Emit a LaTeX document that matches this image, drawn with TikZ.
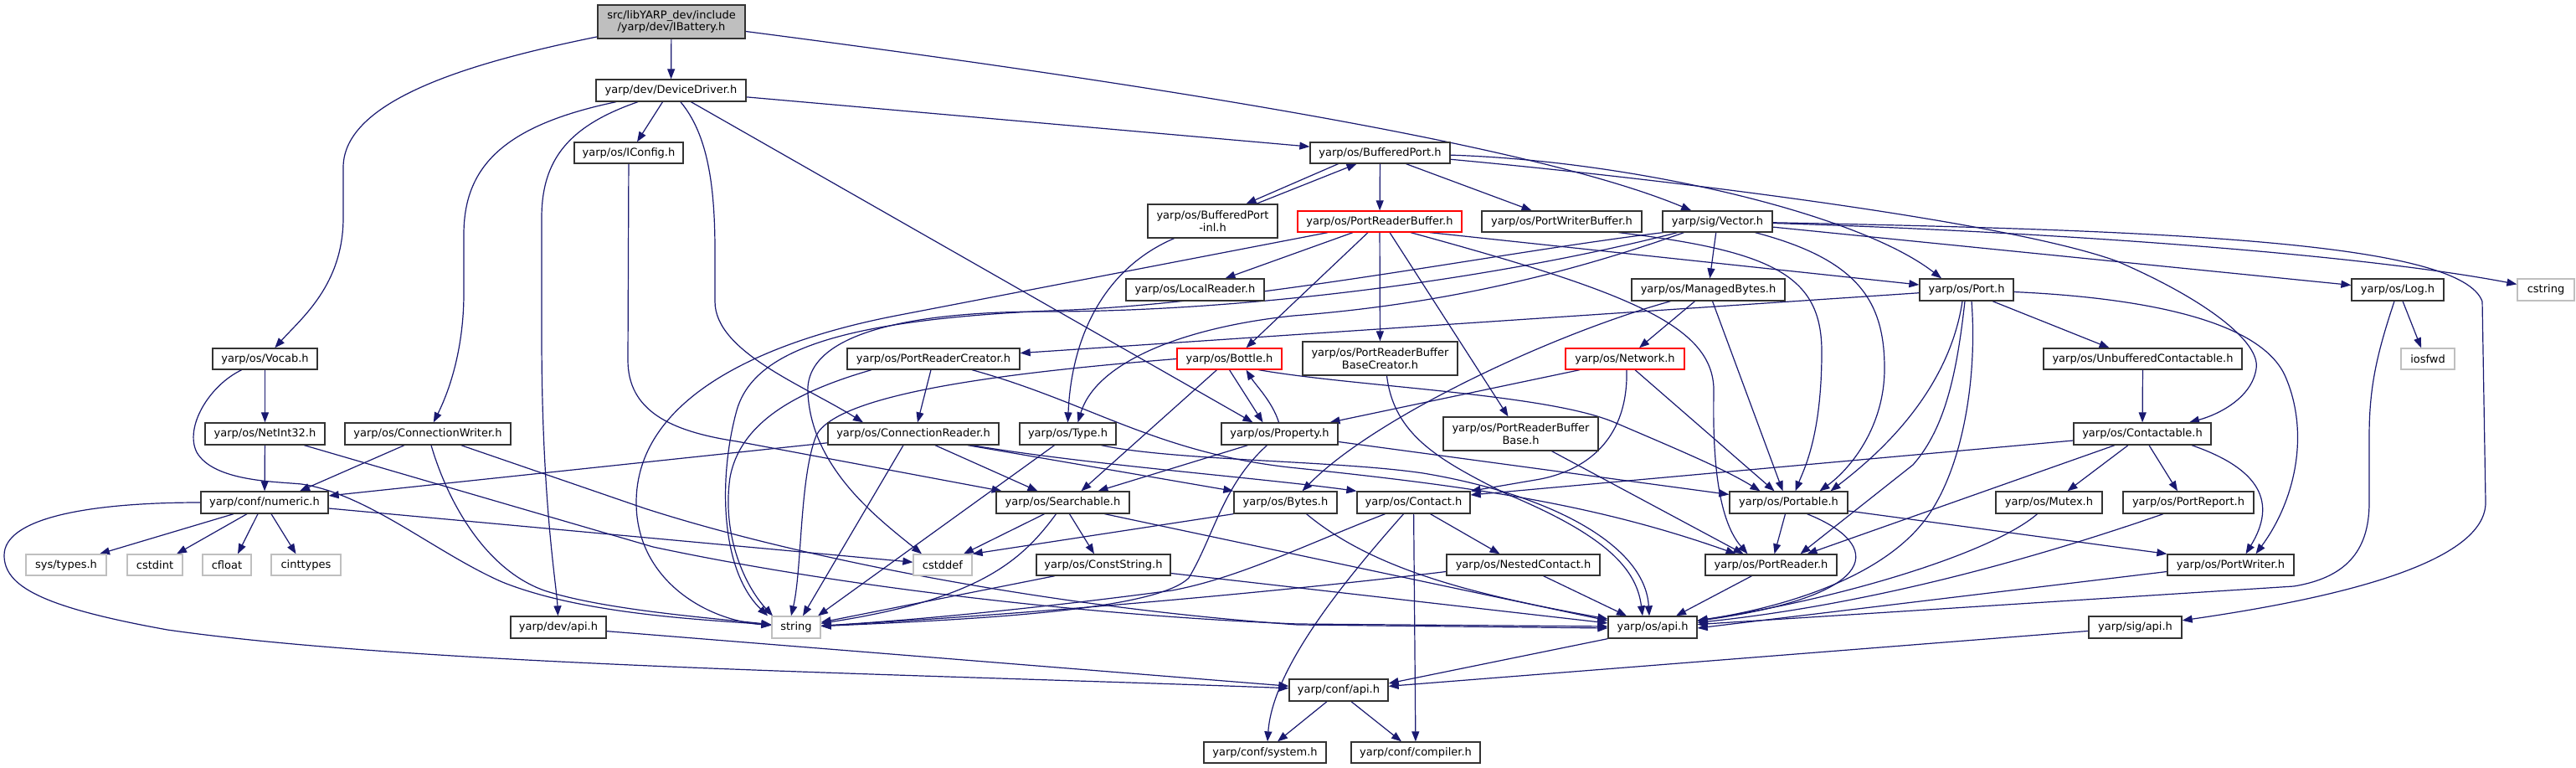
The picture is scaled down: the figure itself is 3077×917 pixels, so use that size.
\documentclass[tikz,border=0pt]{standalone}
\usepackage{fontspec}
\setmainfont{DejaVu Sans}
\usetikzlibrary{arrows.meta}
\pgfdeclarelayer{bg}
\pgfsetlayers{bg,main}
\definecolor{edgec}{HTML}{191970}
\definecolor{bordc}{HTML}{333333}
\definecolor{grayb}{HTML}{BFBFBF}
\definecolor{redb}{HTML}{FF0000}
\begin{document}
\begin{tikzpicture}[x=1pt,y=-1pt,
 base/.style={rectangle, line width=1.3pt, fill=white, inner sep=0pt, align=center, font=\fontsize{13}{14.5}\selectfont, text=black},
 nb/.style 2 args={base, draw=bordc, minimum width=#1pt, minimum height=#2pt},
 ng/.style 2 args={base, draw=grayb, minimum width=#1pt, minimum height=#2pt},
 nr/.style 2 args={base, draw=redb, minimum width=#1pt, minimum height=#2pt},
 dep/.style={draw=edgec, line width=1.2pt, -{Triangle[length=12pt,width=9pt]}}]
\useasboundingbox (0,0) rectangle (3077,917);
% nodes
\node[nb={176}{40},fill=grayb] (root) at (802,26) {src/libYARP\_dev/include\\/yarp/dev/IBattery.h};
\node[nb={179}{26}] (dd) at (801.5,108) {yarp/dev/DeviceDriver.h};
\node[nb={130}{25}] (iconfig) at (751,182.5) {yarp/os/IConfig.h};
\node[nb={167}{25}] (bport) at (1648.5,182.5) {yarp/os/BufferedPort.h};
\node[nb={155}{40}] (bpinl) at (1448.5,264) {yarp/os/BufferedPort\\-inl.h};
\node[nr={196}{25}] (prbuf) at (1648,264.5) {yarp/os/PortReaderBuffer.h};
\node[nb={191}{25}] (pwbuf) at (1865.5,264.5) {yarp/os/PortWriterBuffer.h};
\node[nb={131}{25}] (vector) at (2051.5,264.5) {yarp/sig/Vector.h};
\node[nb={165}{26}] (localreader) at (1427.5,346) {yarp/os/LocalReader.h};
\node[nb={183}{26}] (mbytes) at (2040.5,346) {yarp/os/ManagedBytes.h};
\node[nb={112}{26}] (port) at (2349,346) {yarp/os/Port.h};
\node[nb={110}{26}] (log) at (2864,346) {yarp/os/Log.h};
\node[ng={68}{26}] (cstring) at (3041,346) {cstring};
\node[nb={125}{25}] (vocab) at (316.5,428.5) {yarp/os/Vocab.h};
\node[nb={206}{25}] (prcreator) at (1115,428.5) {yarp/os/PortReaderCreator.h};
\node[nr={125}{25}] (bottle) at (1468.5,428.5) {yarp/os/Bottle.h};
\node[nb={185}{40}] (prbbc) at (1648.5,428) {yarp/os/PortReaderBuffer\\BaseCreator.h};
\node[nr={142}{25}] (network) at (1941,428.5) {yarp/os/Network.h};
\node[nb={237}{25}] (unbuf) at (2559.5,428.5) {yarp/os/UnbufferedContactable.h};
\node[ng={64}{25}] (iosfwd) at (2900,428.5) {iosfwd};
\node[nb={143}{26}] (netint) at (316.5,518) {yarp/os/NetInt32.h};
\node[nb={198}{26}] (cwriter) at (511,518) {yarp/os/ConnectionWriter.h};
\node[nb={204}{26}] (creader) at (1091,518) {yarp/os/ConnectionReader.h};
\node[nb={115}{26}] (type) at (1275.5,518) {yarp/os/Type.h};
\node[nb={139}{26}] (property) at (1528.5,518) {yarp/os/Property.h};
\node[nb={185}{40}] (prbb) at (1816.5,518) {yarp/os/PortReaderBuffer\\Base.h};
\node[nb={164}{26}] (contactable) at (2559,518) {yarp/os/Contactable.h};
\node[nb={152}{26}] (numeric) at (316,600) {yarp/conf/numeric.h};
\node[nb={159}{26}] (searchable) at (1269.5,600) {yarp/os/Searchable.h};
\node[nb={123}{26}] (bytes) at (1535.5,600) {yarp/os/Bytes.h};
\node[nb={135}{26}] (contact) at (1688.5,600) {yarp/os/Contact.h};
\node[nb={141}{26}] (portable) at (2136.5,600) {yarp/os/Portable.h};
\node[nb={127}{26}] (mutex) at (2447.5,600) {yarp/os/Mutex.h};
\node[nb={156}{26}] (portreport) at (2614,600) {yarp/os/PortReport.h};
\node[ng={96}{25}] (systypes) at (79,674.5) {sys/types.h};
\node[ng={66}{25}] (cstdint) at (185,674.5) {cstdint};
\node[ng={58}{25}] (cfloat) at (271,674.5) {cfloat};
\node[ng={83}{25}] (cinttypes) at (365.5,674.5) {cinttypes};
\node[ng={70}{25}] (cstddef) at (1126,674.5) {cstddef};
\node[nb={160}{25}] (conststring) at (1318,674.5) {yarp/os/ConstString.h};
\node[nb={183}{25}] (nested) at (1819.5,674.5) {yarp/os/NestedContact.h};
\node[nb={157}{25}] (portreader) at (2115.5,674.5) {yarp/os/PortReader.h};
\node[nb={151}{25}] (portwriter) at (2664.5,674.5) {yarp/os/PortWriter.h};
\node[ng={58}{26}] (string) at (951,749) {string};
\node[nb={114}{26}] (devapi) at (667,749) {yarp/dev/api.h};
\node[nb={106}{26}] (osapi) at (1974,749) {yarp/os/api.h};
\node[nb={111}{26}] (sigapi) at (2550.5,749) {yarp/sig/api.h};
\node[nb={118}{26}] (confapi) at (1599,824) {yarp/conf/api.h};
\node[nb={146}{25}] (system) at (1511,898.5) {yarp/conf/system.h};
\node[nb={154}{25}] (compiler) at (1691,898.5) {yarp/conf/compiler.h};
% edges
\begin{pgfonlayer}{bg}
\fill[white] (0,0) rectangle (3077,917);
\draw[dep] (root) -- (dd);
\draw[dep] (root) .. controls (560,75) and (410,120) .. (410,200) -- (410,260) .. controls (410,340) and (360,380) .. (vocab);
\draw[dep] (root) .. controls (1450,110) and (1850,180) .. (vector);
\draw[dep] ([xshift=-10pt]dd.south) -- ([xshift=10pt]iconfig.north);
\draw[dep] (dd) -- (bport);
\draw[dep] (dd) .. controls (600,150) and (554,200) .. (554,280) -- (554,350) .. controls (554,420) and (535,470) .. (cwriter);
\draw[dep] (dd) .. controls (680,150) and (647,190) .. (647,260) -- (647,400) .. controls (647,600) and (665,700) .. (devapi);
\draw[dep] (dd) .. controls (845,160) and (854,220) .. (854,300) -- (854,360) .. controls (854,420) and (960,460) .. ([xshift=-60pt]creader.north);
\draw[dep] (dd) -- ([xshift=-32pt]property.north);
\draw[dep] (iconfig) -- (750,430) .. controls (750,490) and (800,515) .. (880,527) -- (searchable);
\draw[dep] (vocab) -- (netint);
\draw[dep] (vocab) .. controls (250,460) and (220,510) .. (235,540) .. controls (255,575) and (330,575) .. (360,578) .. controls (440,590) and (520,660) .. (600,695) .. controls (700,735) and (850,740) .. (string);
\draw[dep] (netint) -- (numeric);
\draw[dep] (netint) -- (780,653) .. controls (1000,700) and (1300,735) .. (1550,745) -- ([yshift=1pt]osapi.west);
\draw[dep] ([xshift=-28pt]cwriter.south) -- ([xshift=42pt]numeric.north);
\draw[dep] (cwriter) .. controls (535,600) and (580,680) .. (650,705) .. controls (720,728) and (850,738) .. (string);
\draw[dep] (cwriter) -- (770,607) .. controls (950,665) and (1250,725) .. (1550,746) -- ([yshift=-1pt]osapi.west);
\draw[dep] ([xshift=-37pt]numeric.south) -- ([xshift=40pt]systypes.north);
\draw[dep] ([xshift=-21pt]numeric.south) -- ([xshift=26pt]cstdint.north);
\draw[dep] ([xshift=-8pt]numeric.south) -- ([xshift=13pt]cfloat.north);
\draw[dep] ([xshift=8pt]numeric.south) -- ([xshift=-12pt]cinttypes.north);
\draw[dep] (numeric) -- (cstddef);
\draw[dep] (numeric.west) .. controls (100,600) and (5,620) .. (5,663) .. controls (5,700) and (50,725) .. (200,752) .. controls (500,795) and (1100,805) .. (confapi);
\draw[dep] (devapi) -- (confapi);
\draw[dep] ([xshift=-50pt]bport.south) -- ([xshift=40pt]bpinl.north);
\draw[dep] ([xshift=52pt]bpinl.north) -- ([xshift=-28pt]bport.south);
\draw[dep] (bport) -- (prbuf);
\draw[dep] ([xshift=31pt]bport.south) -- ([xshift=-36pt]pwbuf.north);
\draw[dep] (bport) .. controls (1950,192) and (2220,255) .. ([xshift=-30pt]port.north);
\draw[dep] (bport) .. controls (2000,215) and (2400,265) .. (2529,312) .. controls (2640,360) and (2700,410) .. (2695,440) .. controls (2690,475) and (2650,495) .. ([xshift=56pt]contactable.north);
\draw[dep] ([xshift=-46pt]bpinl.south) .. controls (1320,320) and (1280,400) .. (type.north);
\draw[dep] ([xshift=-32pt]prbuf.south) -- ([xshift=36pt]localreader.north);
\draw[dep] ([xshift=-14pt]prbuf.south) -- ([xshift=20pt]bottle.north);
\draw[dep] (prbuf) -- (prbbc);
\draw[dep] ([xshift=12pt]prbuf.south) -- ([xshift=-15pt]prbb.north);
\draw[dep] ([xshift=60pt]prbuf.south) -- ([yshift=6pt]port.west);
\draw[dep] ([xshift=37pt]prbuf.south) .. controls (1950,350) and (2050,390) .. (2047,470) .. controls (2045,580) and (2060,630) .. ([xshift=-28pt]portreader.north);
\draw[dep] ([xshift=-62pt]prbuf.south) -- (1070,377) .. controls (900,410) and (760,480) .. (760,600) .. controls (760,690) and (840,740) .. (string);
\draw[dep] ([xshift=68pt]pwbuf.south) .. controls (2120,300) and (2176,330) .. (2176,420) .. controls (2176,520) and (2155,560) .. ([xshift=8pt]portable.north);
\draw[dep] (vector) -- (mbytes);
\draw[dep] (vector) -- (log);
\draw[dep] (vector) .. controls (2400,275) and (2800,300) .. (cstring);
\draw[dep] (vector) .. controls (2600,275) and (2940,290) .. (2965,360) -- (2969,600) .. controls (2969,680) and (2750,720) .. (sigapi);
\draw[dep] ([xshift=45pt]vector.south) .. controls (2220,310) and (2251,360) .. (2251,440) .. controls (2251,510) and (2210,560) .. ([xshift=37pt]portable.north);
\draw[dep] ([xshift=-65pt]vector.south) .. controls (1800,300) and (1500,360) .. (1280,370) .. controls (1000,380) and (900,420) .. (880,490) .. controls (858,570) and (860,680) .. ([xshift=-34pt]string.north);
\draw[dep] ([xshift=-48pt]vector.south) .. controls (1800,330) and (1500,372) .. (1250,372) .. controls (1080,372) and (960,400) .. (965,470) .. controls (970,560) and (1050,620) .. ([xshift=-25pt]cstddef.north);
\draw[dep] ([xshift=-40pt]vector.south) .. controls (1850,335) and (1700,365) .. (1545,377) .. controls (1420,390) and (1310,430) .. ([xshift=12pt]type.north);
\draw[dep] ([xshift=-16pt]mbytes.south) -- ([xshift=17pt]network.north);
\draw[dep] ([xshift=-45pt]mbytes.south) .. controls (1850,400) and (1640,500) .. ([xshift=20pt]bytes.north);
\draw[dep] ([xshift=5pt]mbytes.south) -- ([xshift=-7pt]portable.north);
\draw[dep] (port) -- (prcreator);
\draw[dep] ([xshift=31pt]port.south) -- ([xshift=-40pt]unbuf.north);
\draw[dep] (port) .. controls (2550,355) and (2700,380) .. (2730,450) .. controls (2760,520) and (2740,600) .. ([xshift=30pt]portwriter.north);
\draw[dep] ([xshift=-5pt]port.south) .. controls (2335,420) and (2300,500) .. ([xshift=50pt]portable.north);
\draw[dep] ([xshift=-2pt]port.south) .. controls (2338,440) and (2325,510) .. (2285,555) -- ([xshift=35pt]portreader.north);
\draw[dep] ([xshift=6pt]port.south) .. controls (2362,450) and (2345,560) .. (2300,620) .. controls (2240,700) and (2100,730) .. (osapi);
\draw[dep] ([xshift=6pt]log.south) -- ([xshift=-8pt]iosfwd.north);
\draw[dep] ([xshift=-4pt]log.south) .. controls (2840,420) and (2830,460) .. (2830,520) -- (2830,600) .. controls (2830,660) and (2800,690) .. (2740,700) -- (osapi);
\draw[dep] ([xshift=-3pt]prcreator.south) -- ([xshift=5pt]creader.north);
\draw[dep] ([xshift=-74pt]prcreator.south) .. controls (960,465) and (885,500) .. (872,570) .. controls (862,640) and (890,700) .. ([xshift=-28pt]string.north);
\draw[dep] ([xshift=46pt]prcreator.south) .. controls (1300,480) and (1380,540) .. (1540,558) .. controls (1750,580) and (1900,600) .. ([xshift=-42pt]portreader.north);
\draw[dep] (bottle.south) -- ([xshift=-20pt]property.north);
\draw[dep] ([xshift=-1pt]property.north) .. controls (1520,480) and (1500,460) .. ([xshift=20pt]bottle.south);
\draw[dep] ([xshift=-15pt]bottle.south) -- ([xshift=22pt]searchable.north);
\draw[dep] (bottle.west) .. controls (1200,445) and (1000,470) .. (975,520) .. controls (955,570) and (958,680) .. ([xshift=-6pt]string.north);
\draw[dep] ([xshift=35pt]bottle.south) .. controls (1620,462) and (1850,470) .. (1930,505) .. controls (2000,535) and (2060,560) .. ([xshift=-34pt]portable.north);
\draw[dep] ([xshift=-38pt]property.south) -- ([xshift=42pt]searchable.north);
\draw[dep] ([xshift=-15pt]property.south) .. controls (1460,580) and (1450,640) .. (1420,690) .. controls (1380,730) and (1150,740) .. (string);
\draw[dep] (property) -- (portable);
\draw[dep] ([xshift=-54pt]network.south) -- ([xshift=60pt]property.north);
\draw[dep] ([xshift=2pt]network.south) .. controls (1945,520) and (1900,560) .. (1840,572) -- (contact.north east);
\draw[dep] ([xshift=12pt]network.south) -- ([xshift=-17pt]portable.north);
\draw[dep] (unbuf) -- (contactable);
\draw[dep] ([xshift=8pt]prbbc.south) .. controls (1665,520) and (1720,550) .. (1800,590) .. controls (1920,640) and (1955,680) .. ([xshift=-12pt]osapi.north);
\draw[dep] ([xshift=37pt]prbb.south) -- ([xshift=-33pt]portreader.north);
\draw[dep] ([xshift=-16pt]type.south) -- ([xshift=26pt]string.north);
\draw[dep] ([xshift=40pt]type.south) .. controls (1400,550) and (1600,550) .. (1700,565) .. controls (1850,590) and (1965,650) .. ([xshift=-4pt]osapi.north);
\draw[dep] (creader) -- (numeric);
\draw[dep] ([xshift=-12pt]creader.south) -- ([xshift=8pt]string.north);
\draw[dep] ([xshift=26pt]creader.south) -- ([xshift=-30pt]searchable.north);
\draw[dep] ([xshift=65pt]creader.south) -- (bytes.north west);
\draw[dep] ([xshift=70pt]creader.south) .. controls (1300,555) and (1500,570) .. (contact.north west);
\draw[dep] ([xshift=-22pt]searchable.south) -- ([xshift=25pt]cstddef.north);
\draw[dep] ([xshift=-8pt]searchable.south) .. controls (1220,670) and (1170,715) .. (string);
\draw[dep] ([xshift=8pt]searchable.south) -- ([xshift=-11pt]conststring.north);
\draw[dep] ([xshift=50pt]searchable.south) -- ([yshift=8pt]osapi.west);
\draw[dep] (bytes.south west) -- (cstddef.north east);
\draw[dep] ([xshift=25pt]bytes.south) .. controls (1640,680) and (1760,710) .. ([yshift=10pt]osapi.west);
\draw[dep] ([xshift=-34pt]contact.south) .. controls (1560,650) and (1480,690) .. (1400,705) .. controls (1250,725) and (1100,740) .. (string);
\draw[dep] ([xshift=20pt]contact.south) -- ([xshift=-28pt]nested.north);
\draw[dep] ([xshift=-12pt]contact.south) .. controls (1600,700) and (1520,800) .. ([xshift=3pt]system.north);
\draw[dep] (contact) -- (compiler);
\draw[dep] ([yshift=-8pt]nested.west) .. controls (1500,710) and (1200,735) .. (string);
\draw[dep] ([xshift=24pt]nested.south) -- ([xshift=-31pt]osapi.north);
\draw[dep] ([xshift=-58pt]conststring.south) -- (string);
\draw[dep] ([yshift=-10pt]conststring.east) -- ([yshift=5pt]osapi.west);
\draw[dep] ([xshift=-4pt]portable.south) -- ([xshift=4pt]portreader.north);
\draw[dep] ([yshift=-10pt]portable.east) -- (portwriter.north west);
\draw[dep] ([xshift=22pt]portable.south) .. controls (2250,650) and (2250,710) .. (osapi);
\draw[dep] ([xshift=-23pt]portreader.south) -- ([xshift=28pt]osapi.north);
\draw[dep] ([yshift=-8pt]contactable.west) -- ([yshift=9pt]contact.east);
\draw[dep] ([xshift=-33pt]contactable.south) -- ([xshift=43pt]portreader.north);
\draw[dep] ([xshift=-17pt]contactable.south) -- ([xshift=22pt]mutex.north);
\draw[dep] ([xshift=8pt]contactable.south) -- ([xshift=-13pt]portreport.north);
\draw[dep] ([xshift=59pt]contactable.south) .. controls (2700,560) and (2720,600) .. ([xshift=18pt]portwriter.north);
\draw[dep] ([xshift=-14pt]mutex.south) .. controls (2380,660) and (2200,715) .. (osapi);
\draw[dep] ([xshift=-30pt]portreport.south) .. controls (2450,660) and (2250,720) .. (osapi);
\draw[dep] ([yshift=-8pt]portwriter.west) -- ([yshift=-1pt]osapi.east);
\draw[dep] (osapi.south west) -- ([yshift=8pt]confapi.east);
\draw[dep] (sigapi) -- (confapi);
\draw[dep] ([xshift=-14pt]confapi.south) -- ([xshift=15pt]system.north);
\draw[dep] ([xshift=15pt]confapi.south) -- ([xshift=-17pt]compiler.north);
\end{pgfonlayer}
\end{tikzpicture}
\end{document}
